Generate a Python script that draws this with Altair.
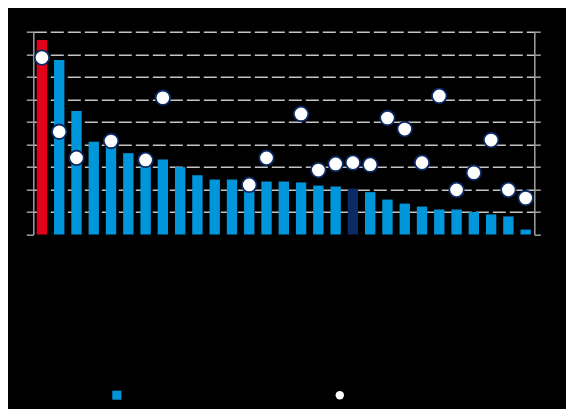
import altair as alt
import pandas as pd

countries = ["LUX", "IRL", "CHE", "NOR", "USA", "ISL", "NLD", "DNK", "AUT", "SWE",
             "DEU", "BEL", "AUS", "CAN", "FIN", "GBR", "FRA", "JPN", "OECD", "KOR",
             "NZL", "ITA", "ISR", "ESP", "CZE", "SVN", "SVK", "PRT", "POL"]
bar_values = [86.3, 77.4, 54.8, 41.2, 39.0, 36.1, 34.5, 33.3, 29.9, 26.3,
              24.4, 24.4, 23.8, 23.5, 23.5, 23.1, 21.7, 21.3, 20.4, 18.8,
              15.5, 13.7, 12.4, 11.1, 11.1, 10.0, 8.9, 8.0, 2.2]
dot_values = [78.5, 45.6, 34.0, None, 41.5, None, 33.1, 60.7, None, None,
              None, None, 22.0, 34.0, None, 53.5, 28.6, 31.3, 31.9, 31.0,
              51.7, 46.8, 31.9, 61.5, 19.8, 27.4, 41.9, 19.8, 16.2]
groups = ["Top"] + ["Series A"] * 17 + ["Average"] + ["Series A"] * 10

BLUE = "#0096db"
RED = "#e2001a"
NAVY = "#0b2a66"
AXIS_GRAY = "#a0a0a0"
GRID_GRAY = "#c4c4c4"

df = pd.DataFrame({"country": countries, "bar": bar_values, "dot": dot_values,
                   "grp": groups, "series": "Series B (right axis)"})

x = alt.X("country:N", sort=None, title=None,
          scale=alt.Scale(paddingInner=0.4, paddingOuter=0.2),
          axis=alt.Axis(domain=False, ticks=False, labelAngle=-90,
                        labelColor="black", labelFontSize=10, labelPadding=4))

bars = alt.Chart(df).mark_bar().encode(
    x=x,
    y=alt.Y("bar:Q", title=None,
            scale=alt.Scale(domain=[0, 90], nice=False),
            axis=alt.Axis(values=list(range(0, 91, 10)), orient="left",
                          domainColor=AXIS_GRAY, domainWidth=1.5,
                          tickColor=AXIS_GRAY, tickWidth=1.5, tickSize=7,
                          labelColor="black", labelFontSize=10,
                          grid=True, gridColor=GRID_GRAY, gridWidth=1.5,
                          gridDash=[13, 4],
                          gridOpacity=alt.condition("datum.value == 0", alt.value(0), alt.value(1)))),
    color=alt.Color("grp:N", title=None,
                    scale=alt.Scale(domain=["Series A", "Top", "Average"],
                                    range=[BLUE, RED, NAVY]),
                    legend=alt.Legend(values=["Series A"], orient="none",
                                      legendX=78, legendY=358, symbolType="square",
                                      symbolSize=81, labelColor="black",
                                      labelFontSize=11, padding=0)),
)

dots = alt.Chart(df).transform_filter("isValid(datum.dot)").mark_point(
    filled=True, fill="white", stroke=NAVY, strokeWidth=1.8, size=210, opacity=1
).encode(
    x=x,
    y=alt.Y("dot:Q", title=None,
            scale=alt.Scale(domain=[0, 90], nice=False),
            axis=alt.Axis(values=list(range(0, 91, 10)), orient="right",
                          domainColor=AXIS_GRAY, domainWidth=1.5,
                          tickColor=AXIS_GRAY, tickWidth=1.5, tickSize=6,
                          labelColor="black", labelFontSize=10, grid=False)),
    shape=alt.Shape("series:N", title=None,
                    scale=alt.Scale(range=["circle"]),
                    legend=alt.Legend(orient="none", legendX=301, legendY=358,
                                      symbolSize=70, symbolFillColor="white",
                                      symbolStrokeColor=NAVY, symbolStrokeWidth=1,
                                      labelColor="black", labelFontSize=11,
                                      padding=0)),
)

chart = alt.layer(bars, dots).resolve_scale(y="independent").properties(
    width=501, height=202.8,
    background="black",
    autosize=alt.AutoSizeParams(type="none"),
    padding={"left": 25.3, "top": 23.7, "right": 32, "bottom": 174},
).configure_view(stroke=None)

chart.save("out.html", embed_options={"renderer": "svg", "actions": False})
